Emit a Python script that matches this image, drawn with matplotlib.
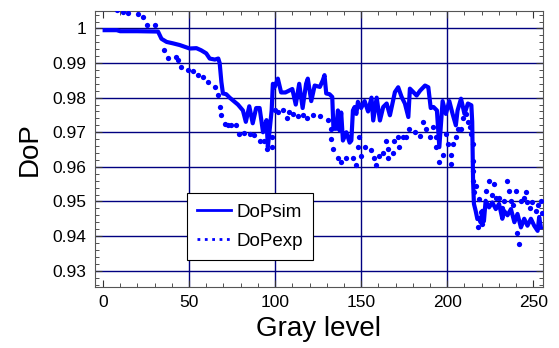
import numpy as np
import matplotlib.pyplot as plt
from matplotlib.lines import Line2D
from matplotlib.ticker import MultipleLocator

plt.rcParams['font.family'] = ['Liberation Sans', 'DejaVu Sans']

# ── DATA ──────────────────────────────────────────────────────────────────────
sim_x = [1, 8, 10, 20, 32, 34, 37, 40.6, 44.6, 47.5, 50.4, 54.3, 57, 60, 62, 65, 67, 67.8,
         68.8, 69.7, 71.6, 73.6, 75.5, 78.4, 81.3, 83, 85, 87, 89, 91, 93, 95, 95.8, 98,
         98.7, 99.7, 101.6, 103.5, 106, 108, 110, 112, 114, 116, 118, 119, 121, 123, 126,
         127.7, 128.7, 129.7, 131.6, 133.2, 133.9, 135.5, 136.5, 137.5, 138.4, 139.4,
         141.4, 143.3, 144.3, 145.2, 146.2, 147.2, 148.1, 150, 152, 154, 156, 157, 159,
         160.9, 162.8, 164.8, 166.7, 169.6, 171.5, 173.5, 175.4, 177.4, 178.3, 180.3,
         182.2, 184.2, 187.1, 189, 190.4, 192, 194, 195.4, 197.3, 199.2, 201.2, 203.1,
         205, 206, 208, 210, 212, 214, 214.5, 215, 215.5, 216.5, 217.5, 218.5, 219.4,
         220.4, 221.3, 222.3, 224.3, 226.2, 228.2, 230.1, 232, 233, 235, 237, 239, 240.8,
         242.8, 244.7, 246.6, 248.6, 250.5, 252.5, 253.4, 254.4]
sim_y = [0.9995, 0.9995, 0.9992, 0.9992, 0.9991, 0.9970, 0.9961, 0.9957, 0.9952, 0.9947,
         0.9942, 0.9943, 0.9937, 0.9928, 0.9913, 0.9910, 0.9913, 0.9900,
         0.9845, 0.9812, 0.9810, 0.9800, 0.9792, 0.9780, 0.9763, 0.9730, 0.9775, 0.9726,
         0.9770, 0.9770, 0.9700, 0.9735, 0.9657, 0.9763,
         0.9840, 0.9830, 0.9855, 0.9815, 0.9815, 0.9820, 0.9825, 0.9780, 0.9840, 0.9770,
         0.9840, 0.9855, 0.9790, 0.9835, 0.9831,
         0.9850, 0.9865, 0.9812, 0.9810, 0.9802, 0.9710, 0.9710, 0.9763, 0.9705, 0.9757,
         0.9676, 0.9700, 0.9670, 0.9676, 0.9763, 0.9773, 0.9753, 0.9788, 0.9770, 0.9790,
         0.9760, 0.9800, 0.9734, 0.9800, 0.9734, 0.9773, 0.9783, 0.9749, 0.9816, 0.9830,
         0.9802, 0.9783, 0.9744, 0.9826, 0.9816, 0.9806, 0.9820, 0.9835, 0.9830, 0.9770,
         0.9773, 0.9763, 0.9657, 0.9790, 0.9753, 0.9790, 0.9753, 0.9720, 0.9763, 0.9797,
         0.9753, 0.9783, 0.9778, 0.9730, 0.9560, 0.9493, 0.9473, 0.9449, 0.9452, 0.9439,
         0.9473, 0.9443, 0.9502, 0.9483, 0.9497, 0.9478, 0.9493, 0.9450, 0.9473, 0.9460,
         0.9478, 0.9440, 0.9464, 0.9425, 0.9450, 0.9430, 0.9450, 0.9430, 0.9415, 0.9455,
         0.9425]

exp_x = [0, 4, 8, 11.8, 14.7, 20.5, 23, 25.3, 30.1, 35.4, 37.9, 42.3, 43.7, 45.6, 49.5,
         52.4, 55.3, 58.2, 61.1, 65, 66.9, 67.8, 68.8, 70.8, 72.7, 74.6, 77.5, 79, 81.7,
         85.2, 88, 91, 93.3, 95.2, 98.3, 98.3, 99.7, 101.6, 104.5, 106.9, 108, 110.4,
         113.3, 116.2, 118.5, 122, 125.8, 130.6, 132.5, 132.5, 133.4, 136.3, 138.2, 141.1,
         145, 147, 148, 148.5, 150, 152, 155.8, 157.7, 158.7, 160.6, 162.5, 164.5, 165.4,
         165.4, 168.3, 169.3, 171.3, 172.2, 174.2, 176, 178, 181, 183.9, 185.8, 187.8,
         189.7, 191.6, 193.6, 193.6, 195.5, 197.5, 199.4, 200.4, 202.3, 202.3, 203.3,
         205.2, 206.1, 208.1, 209, 211, 212, 213, 214, 214.9, 215, 215, 215, 215.5, 216.5,
         218, 218.4, 219.4, 220.4, 222.3, 224.3, 226.2, 227.2, 228.2, 230.1, 232, 233,
         235, 236, 237, 238, 239.8, 240.8, 241.8, 242.8, 244.7, 245.7, 246.6, 248, 249.5,
         251.5, 253, 254.4, 255]
exp_y = [1.0060, 1.0058, 1.0053, 1.0048, 1.0046, 1.0041, 1.0032, 1.0010, 1.0010, 0.9937,
         0.9916, 0.9918, 0.9908, 0.9889, 0.9879, 0.9878, 0.9865, 0.9860, 0.9845, 0.9830,
         0.9807, 0.9773, 0.9749, 0.9725, 0.9720, 0.9721, 0.9721, 0.9696, 0.9697, 0.9695,
         0.9693, 0.9676, 0.9676, 0.9652, 0.9657, 0.9686, 0.9763, 0.9759, 0.9763, 0.9740,
         0.9759, 0.9753, 0.9746, 0.9749, 0.9740, 0.9749, 0.9746, 0.9736, 0.9710, 0.9681,
         0.9652, 0.9626, 0.9615, 0.9626, 0.9626, 0.9604, 0.9657, 0.9686, 0.9630, 0.9657,
         0.9650, 0.9625, 0.9604, 0.9630, 0.9640, 0.9676, 0.9652, 0.9625, 0.9640, 0.9676,
         0.9686, 0.9657, 0.9686, 0.9686, 0.9710, 0.9700, 0.9690, 0.9729, 0.9710, 0.9686,
         0.9715, 0.9686, 0.9657, 0.9615, 0.9635, 0.9696, 0.9667, 0.9635, 0.9609, 0.9667,
         0.9686, 0.9710, 0.9710, 0.9740, 0.9753, 0.9730, 0.9715, 0.9696, 0.9667, 0.9618,
         0.9589, 0.9560, 0.9526, 0.9546, 0.9425, 0.9508, 0.9470, 0.9435, 0.9531, 0.9560,
         0.9520, 0.9550, 0.9510, 0.9510, 0.9480, 0.9500, 0.9560, 0.9530, 0.9500, 0.9490,
         0.9530, 0.9410, 0.9377, 0.9500, 0.9510, 0.9526, 0.9497, 0.9480, 0.9497, 0.9473,
         0.9490, 0.9500, 0.9468]

grid_x = [50, 100, 150, 200]
blue = '#0000ff'
navy = '#000080'

# ── PLOT ──────────────────────────────────────────────────────────────────────
fig = plt.figure(figsize=(5.59, 3.48), dpi=100)
ax = fig.add_axes([0.170, 0.175, 0.801, 0.793])

for gx in grid_x:
    ax.axvline(gx, color=navy, lw=1, zorder=1)
ax.yaxis.grid(True, color=navy, lw=1, zorder=1)

ax.plot(exp_x, exp_y, 'o', color=blue, ms=3.8, mew=0, zorder=3)
ax.plot(sim_x, sim_y, '-', color=blue, lw=3, zorder=4)

ax.set_xlim(-4.6, 255.5)
ax.set_ylim(0.92525, 1.005)
ax.set_xticks([0, 50, 100, 150, 200, 250])
ax.set_yticks([0.93, 0.94, 0.95, 0.96, 0.97, 0.98, 0.99, 1.0])
ax.set_yticklabels(['0.93', '0.94', '0.95', '0.96', '0.97', '0.98', '0.99', '1'])
ax.xaxis.set_minor_locator(MultipleLocator(10))
ax.yaxis.set_minor_locator(MultipleLocator(0.002))
ax.tick_params(which='both', direction='in', top=True, right=True, labelsize=12.5,
               color='#333333')
ax.tick_params(which='major', length=5)
ax.tick_params(which='minor', length=3)
ax.tick_params(axis='x', pad=6)
ax.tick_params(axis='y', pad=6)
for s in ax.spines.values():
    s.set_color('#555555')

ax.set_xlabel('Gray level', fontsize=20, labelpad=4)
ax.set_ylabel('DoP', fontsize=20, labelpad=7)

handles = [Line2D([], [], color=blue, lw=2, ls='-'),
           Line2D([], [], color=blue, lw=2, ls=':')]
leg = ax.legend(handles, ['DoPsim', 'DoPexp'], loc='upper left',
                bbox_to_anchor=(0.205, 0.34), borderaxespad=0, fontsize=13.5,
                handlelength=1.8, fancybox=False, edgecolor='black', framealpha=1,
                borderpad=0.55, labelspacing=0.65, handletextpad=0.3)
leg.get_frame().set_linewidth(0.8)
leg.set_zorder(5)

fig.savefig('out.png', dpi=100)
